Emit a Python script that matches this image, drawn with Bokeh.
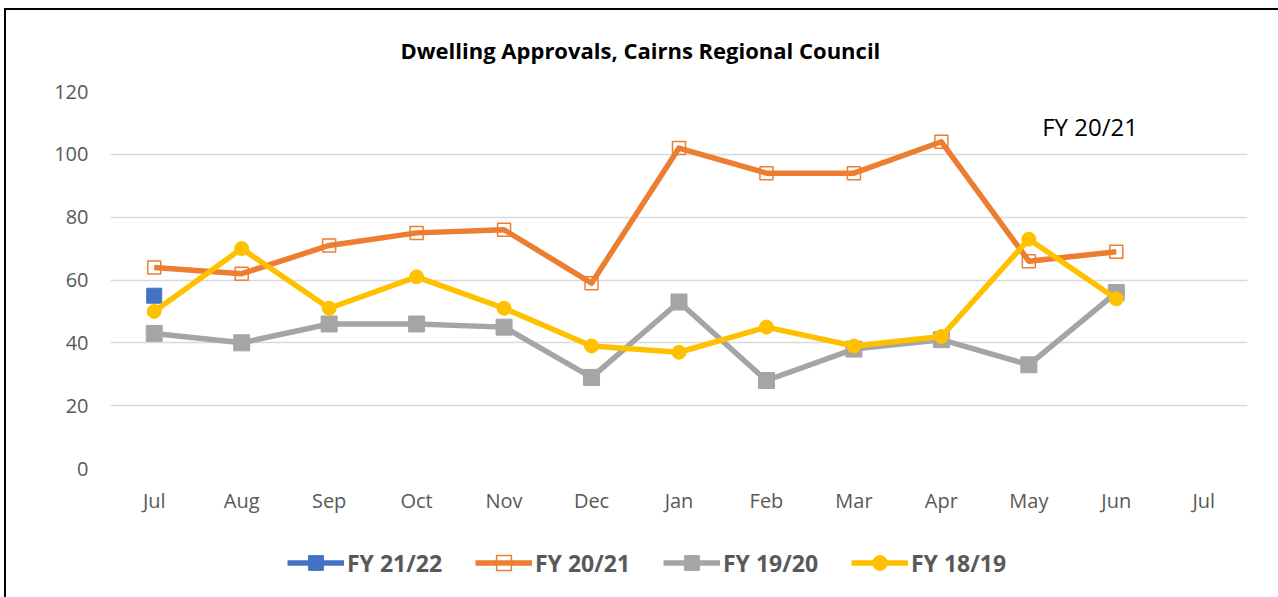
from bokeh.plotting import figure
from bokeh.layouts import column
from bokeh.models import Range1d, Legend, LegendItem, Label, Title
from bokeh.embed import file_html
from bokeh.resources import INLINE

# ---- data ----
months = ["Jul", "Aug", "Sep", "Oct", "Nov", "Dec", "Jan", "Feb", "Mar", "Apr", "May", "Jun", "Jul"]
fy2122 = [55]
fy2021 = [64, 62, 71, 75, 76, 59, 102, 94, 94, 104, 66, 69]
fy1920 = [43, 40, 46, 46, 45, 29, 53, 28, 38, 41, 33, 56]
fy1819 = [50, 70, 51, 61, 51, 39, 37, 45, 39, 42, 73, 54]
series_names = ["FY 21/22", "FY 20/21", "FY 19/20", "FY 18/19"]
y_ticks = [0, 20, 40, 60, 80, 100, 120]
title_text = "Dwelling Approvals, Cairns Regional Council"
note_text = "FY 20/21"

FONT = "Open Sans"
LABEL_COLOR = "#595959"
BLUE, ORANGE, GRAY, YELLOW = "#4472C4", "#ED7D31", "#A5A5A5", "#FFC000"

# series styles: (color, marker, marker size, marker fill)
styles = [
    (BLUE, "square", 15, BLUE),
    (ORANGE, "square", 13, None),
    (GRAY, "square", 16, GRAY),
    (YELLOW, "circle", 14, YELLOW),
]
series_values = [fy2122, fy2021, fy1920, fy1819]

# ---------------- main chart ----------------
p = figure(width=1272, height=510, output_backend="svg", toolbar_location=None,
           x_range=Range1d(-0.5, len(months) - 0.5), y_range=Range1d(0, 120),
           min_border_left=104, min_border_right=31, min_border_top=79,
           min_border_bottom=52, title=None)
p.outline_line_color = None
p.background_fill_color = "white"
p.border_fill_color = "white"

title = Title(text=title_text, text_font=FONT, text_font_style="bold",
              text_font_size="22px", text_color="black", align="left",
              offset=290, vertical_align="top", standoff=49)
p.add_layout(title, "above")

p.xgrid.grid_line_color = None
p.ygrid.grid_line_color = "#D9D9D9"
p.ygrid.grid_line_width = 1.5
p.yaxis.ticker = y_ticks
p.xaxis.ticker = list(range(len(months)))
p.xaxis.major_label_overrides = {i: m for i, m in enumerate(months)}
for ax in (p.xaxis, p.yaxis):
    ax.axis_line_color = None
    ax.major_tick_line_color = None
    ax.minor_tick_line_color = None
    ax.major_tick_out = 0
    ax.major_tick_in = 0
    ax.major_label_text_font = FONT
    ax.major_label_text_font_size = "20px"
    ax.major_label_text_color = LABEL_COLOR
p.yaxis.major_label_standoff = 22
p.xaxis.major_label_standoff = 18

# drawing order: blue, orange, gray, yellow
for vals, (color, marker, msize, mfill) in zip(series_values, styles):
    x = list(range(len(vals)))
    p.line(x, vals, line_color=color, line_width=5.5, line_join="round")
    p.scatter(x, vals, marker=marker, size=msize, fill_color=mfill,
              line_color=color, line_width=1.5 if mfill is None else 1)

note = Label(x=10.7, y=109, text=note_text, text_font=FONT, text_font_size="24px",
             text_color="black", text_align="center", text_baseline="middle")
p.add_layout(note)

# ---------------- legend strip ----------------
# series are re-plotted here out of view (y range far above the data) so that
# the legend can draw its line+marker swatches
p2 = figure(width=1272, height=77, output_backend="svg", toolbar_location=None,
            x_range=Range1d(-0.5, len(months) - 0.5), y_range=Range1d(1000, 1001),
            x_axis_type=None, y_axis_type=None, min_border=0)
p2.outline_line_color = None
p2.xgrid.grid_line_color = None
p2.ygrid.grid_line_color = None
p2.background_fill_color = "white"
p2.border_fill_color = "white"

items = []
for name, vals, (color, marker, msize, mfill) in zip(series_names, series_values, styles):
    x = list(range(len(vals)))
    r1 = p2.line(x, vals, line_color=color, line_width=5.5)
    r2 = p2.scatter(x, vals, marker=marker, size=msize, fill_color=mfill,
                    line_color=color, line_width=1.5 if mfill is None else 1)
    items.append(LegendItem(label=name, renderers=[r1, r2]))

legend = Legend(items=items, orientation="horizontal", location=(177, 16),
                glyph_width=57, glyph_height=37, label_standoff=3, label_width=100,
                spacing=28, label_text_font=FONT, label_text_font_style="bold",
                label_text_font_size="23px", label_text_color=LABEL_COLOR,
                border_line_color=None, background_fill_alpha=0, padding=0, margin=0)
p2.add_layout(legend, "center")

layout = column(p, p2, spacing=0,
                styles={"margin-left": "4px", "margin-top": "8px",
                        "border-left": "2px solid black", "border-top": "2px solid black"})

open("out.html", "w").write(file_html(layout, INLINE))
